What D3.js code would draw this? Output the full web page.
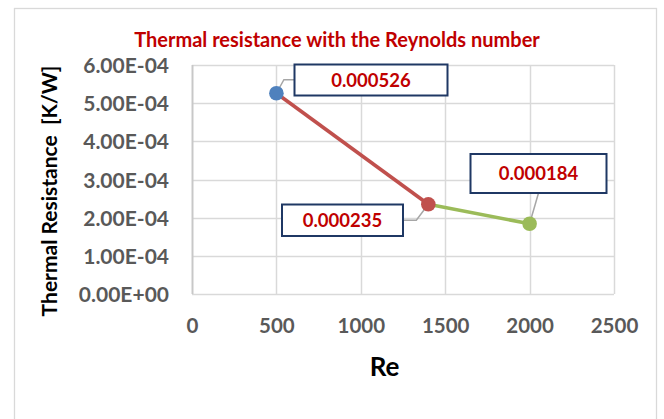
<!DOCTYPE html>
<html><head><meta charset="utf-8">
<script src="https://cdn.jsdelivr.net/npm/d3@7"></script>
<style>body{margin:0;background:#fff}svg{display:block}text{font-family:Lato,"Open Sans",sans-serif}</style>
</head><body><svg id="c" width="664" height="419"></svg>
<script>
const reValues = [500, 1400, 2000];
const resistance = [0.000526, 0.000235, 0.000184];
const labelTexts = ["0.000526", "0.000235", "0.000184"];
const pointColors = ["#4F81BD", "#C0504D", "#9BBB59"];
const xTicks = [0, 500, 1000, 1500, 2000, 2500];
const yTicks = [0, 0.0001, 0.0002, 0.0003, 0.0004, 0.0005, 0.0006];
const yTickLabels = ["0.00E+00","1.00E-04","2.00E-04","3.00E-04","4.00E-04","5.00E-04","6.00E-04"];

const svg = d3.select("#c");
svg.append("rect").attr("x",14.5).attr("y",8.5).attr("width",642).attr("height",430)
  .attr("fill","#fff").attr("stroke","#d9d9d9").attr("stroke-width",1.3);

const x = d3.scaleLinear().domain([0,2500]).range([192,614]);
const y = d3.scaleLinear().domain([0,0.0006]).range([294,65]);

// gridlines
svg.append("g").selectAll("line").data(yTicks).join("line")
  .attr("x1",x(0)).attr("x2",x(2500)).attr("y1",d=>Math.round(y(d))+0.5).attr("y2",d=>Math.round(y(d))+0.5)
  .attr("stroke","#d9d9d9").attr("stroke-width",1.5);
svg.append("g").selectAll("line").data(xTicks).join("line")
  .attr("y1",y(0)).attr("y2",y(0.0006)).attr("x1",d=>Math.round(x(d))+0.5).attr("x2",d=>Math.round(x(d))+0.5)
  .attr("stroke",(d,i)=>i===0?"#c8c8c8":"#d9d9d9").attr("stroke-width",(d,i)=>i===0?2:1.5);

// axes via d3 axis
const yAxis = d3.axisLeft(y).tickValues(yTicks).tickFormat((d,i)=>yTickLabels[i]).tickSize(0).tickPadding(23);
const gy = svg.append("g").attr("transform",`translate(${x(0)},0)`).call(yAxis);
gy.select(".domain").remove();
gy.selectAll("text").attr("font-size",21).attr("font-weight","bold").attr("fill","#595959")
  .attr("font-family","Lato,sans-serif").attr("dy","0.36em");
const xAxis = d3.axisBottom(x).tickValues(xTicks).tickFormat(d3.format("d")).tickSize(0);
const gx = svg.append("g").attr("transform",`translate(0,${y(0)})`).call(xAxis);
gx.select(".domain").remove();
gx.selectAll("text").attr("font-size",20.5).attr("font-weight","bold").attr("fill","#595959")
  .attr("font-family","Lato,sans-serif").attr("y",39).attr("dy",0);

// line segments coloured by their end point
const pts = reValues.map((r,i)=>({x:r,y:resistance[i],c:pointColors[i],t:labelTexts[i]}));
for(let i=1;i<pts.length;i++){
  svg.append("line").attr("x1",x(pts[i-1].x)).attr("y1",y(pts[i-1].y))
    .attr("x2",x(pts[i].x)).attr("y2",y(pts[i].y))
    .attr("stroke",pts[i].c).attr("stroke-width",3.6);
}

// leader lines & labels
const boxes = [
  {bx:294.5,by:64.5,bw:153,bh:31, lead:[[0,0],[7.5,-13.5],[18.5,-13.5]]},
  {bx:282,by:204.5,bw:121,bh:31.5, lead:[[0,0],[-12,16],[-26,16]]},
  {bx:470.5,by:154,bw:136,bh:39, lead:[[0,0],[8.7,-30]]}
];
pts.forEach((p,i)=>{
  const b = boxes[i];
  const px = x(p.x), py = y(p.y);
  svg.append("polyline").attr("points",b.lead.map(q=>[px+q[0],py+q[1]].join(",")).join(" "))
    .attr("fill","none").attr("stroke","#a6a6a6").attr("stroke-width",1.5);
});
pts.forEach((p,i)=>{
  svg.append("circle").attr("cx",x(p.x)).attr("cy",y(p.y)).attr("r",7.3).attr("fill",p.c);
});
pts.forEach((p,i)=>{
  const b = boxes[i];
  svg.append("rect").attr("x",b.bx).attr("y",b.by).attr("width",b.bw).attr("height",b.bh)
    .attr("fill","#fff").attr("stroke","#1F3864").attr("stroke-width",2);
  svg.append("text").attr("x",b.bx+b.bw/2).attr("y",b.by+b.bh/2+6.7).attr("text-anchor","middle")
    .attr("font-size",18.5).attr("font-weight","bold").attr("fill","#C00000").text(p.t);
});

// titles
svg.append("text").attr("x",337).attr("y",47).attr("text-anchor","middle")
  .attr("font-size",20).attr("font-weight","bold").attr("fill","#C00000")
  .text("Thermal resistance with the Reynolds number");
svg.append("text").attr("transform","translate(57,191) rotate(-90)").attr("text-anchor","middle")
  .attr("font-size",21).attr("font-weight","bold").attr("fill","#000")
  .attr("xml:space","preserve").style("white-space","pre")
  .text("Thermal Resistance  [K/W]");
svg.append("text").attr("x",384.5).attr("y",376).attr("text-anchor","middle")
  .attr("font-size",26).attr("font-weight","bold").attr("fill","#000").text("Re");
</script></body></html>
